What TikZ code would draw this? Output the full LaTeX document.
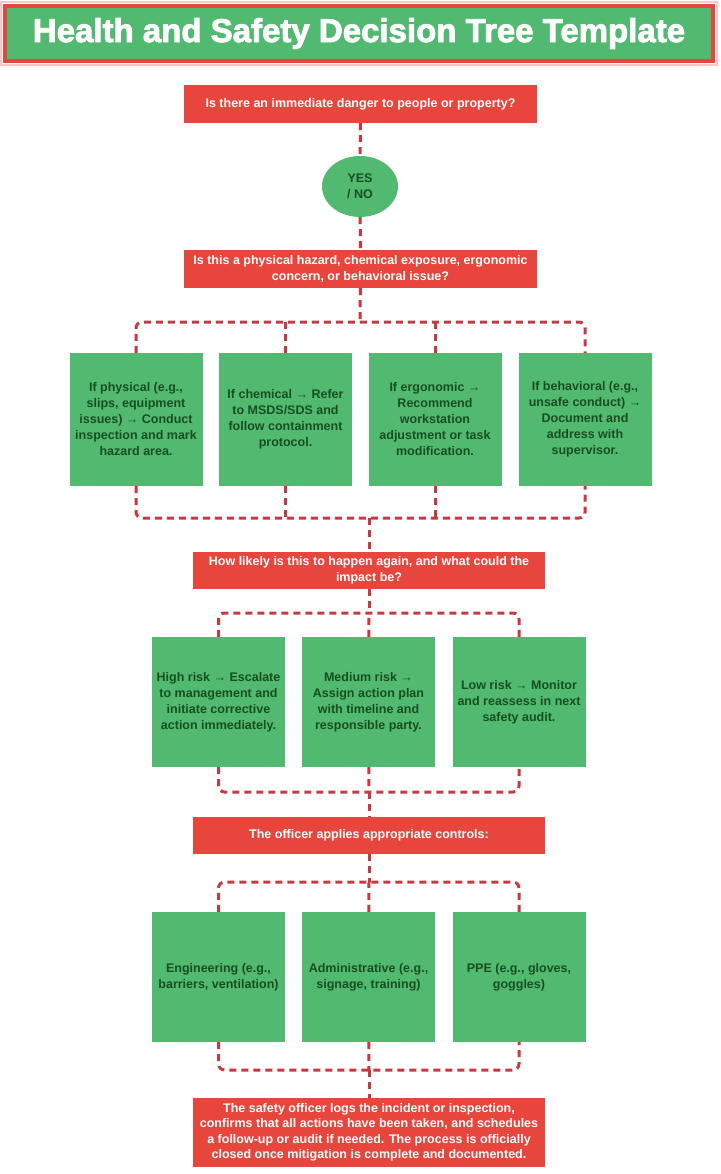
\documentclass[tikz,border=0pt]{standalone}
\usepackage{fontspec}
\setmainfont{Liberation Sans}
\newfontfamily\titlefont{Liberation Sans Bold}[FakeBold=2.5]
\usepackage{tikz}
\usetikzlibrary{shapes.geometric}
\definecolor{boxred}{RGB}{232,70,60}
\definecolor{boxgreen}{RGB}{82,186,112}
\definecolor{txtgreen}{RGB}{22,78,34}
\definecolor{linkred}{RGB}{200,56,66}

\begin{document}
\begin{tikzpicture}[x=1pt, y=-1pt,
        head/.style = {fill=boxgreen, draw=boxred, line width=4pt, text=white, minimum width=708, minimum height=55, font=\titlefont\fontsize{33}{36}\selectfont},
        ques/.style = {fill=boxred, text=white, align=center, minimum width=353, minimum height=38, inner sep=2pt, font=\fontsize{12.5}{15.5}\selectfont\bfseries},
        opt/.style = {fill=boxgreen, text=txtgreen, align=center, minimum width=133, minimum height=130, inner sep=2pt, font=\fontsize{12.5}{16}\selectfont\bfseries},
        yesno/.style = {ellipse, fill=boxgreen, text=txtgreen, align=center, minimum width=76, minimum height=61, inner sep=0pt, font=\fontsize{12.5}{16}\selectfont\bfseries},
        link/.style = {draw=linkred, line width=3pt, dash pattern=on 7pt off 5pt, rounded corners=6pt}]

        \useasboundingbox (0,0) rectangle (720,1174);

        \draw[boxred!30, line width=2pt] (1,2) rectangle (717,65);
        \node[head] (title) at (359,33.5) {Health and Safety Decision Tree Template};

        \node[ques] (q1) at (360.5,104) {Is there an immediate danger to people or property?};
        \node[yesno] (yn) at (360,186.5) {YES\\/ NO};
        \node[ques] (q2) at (360.5,269) {Is this a physical hazard, chemical exposure, ergonomic\\concern, or behavioral issue?};

        \node[opt, minimum height=133] (p1) at (136,419.5) {If physical (e.g.,\\slips, equipment\\issues) → Conduct\\inspection and mark\\hazard area.};
        \node[opt, minimum height=133] (p2) at (285.5,419.5) {If chemical → Refer\\to MSDS/SDS and\\follow containment\\protocol.};
        \node[opt, minimum height=133] (p3) at (435,419.5) {If ergonomic →\\Recommend\\workstation\\adjustment or task\\modification.};
        \node[opt, minimum height=133] (p4) at (585,419.5) {If behavioral (e.g.,\\unsafe conduct) →\\Document and\\address with\\supervisor.};

        \node[ques, minimum width=352, minimum height=37] (q3) at (369,570.5) {How likely is this to happen again, and what could the\\impact be?};

        \node[opt] (r1) at (218.5,702) {High risk → Escalate\\to management and\\initiate corrective\\action immediately.};
        \node[opt] (r2) at (368.5,702) {Medium risk →\\Assign action plan\\with timeline and\\responsible party.};
        \node[opt] (r3) at (519,702) {Low risk → Monitor\\and reassess in next\\safety audit.};

        \node[ques, minimum width=352, minimum height=37] (q4) at (369,835.5) {The officer applies appropriate controls:};

        \node[opt] (c1) at (218.5,977) {Engineering (e.g.,\\barriers, ventilation)};
        \node[opt] (c2) at (368.5,977) {Administrative (e.g.,\\signage, training)};
        \node[opt] (c3) at (519,977) {PPE (e.g., gloves,\\goggles)};

        \node[ques, minimum width=352, minimum height=69, font=\fontsize{12.5}{15.5}\selectfont\bfseries] (q5) at (369,1132.5) {The safety officer logs the incident or inspection,\\confirms that all actions have been taken, and schedules\\a follow-up or audit if needed. The process is officially\\closed once mitigation is complete and documented.};

        % split and merge points
        \coordinate (s1) at (360,322); \coordinate (m1) at (369,518);
        \coordinate (s2) at (369,613); \coordinate (m2) at (369,792);
        \coordinate (s3) at (369,882); \coordinate (m3) at (369,1070);

        \draw[link] (q1) -- (yn); \draw[link] (yn) -- (q2);

        \draw[link] (q2) -- (s1); \draw[link] (p1) |- (s1) -| (p4);
        \draw[link] (p2) -- (p2 |- s1); \draw[link] (p3) -- (p3 |- s1);
        \draw[link] (p1) |- (m1) -| (p4); \draw[link] (m1) -- (q3);
        \draw[link] (p2) -- (p2 |- m1); \draw[link] (p3) -- (p3 |- m1);

        \draw[link] (q3) -- (s2); \draw[link] (r1) |- (s2) -| (r3); \draw[link] (r2) -- (s2);
        \draw[link] (r1) |- (m2) -| (r3); \draw[link] (r2) -- (m2); \draw[link] (m2) -- (q4);

        \draw[link] (q4) -- (s3); \draw[link] (c1) |- (s3) -| (c3); \draw[link] (c2) -- (s3);
        \draw[link] (c1) |- (m3) -| (c3); \draw[link] (c2) -- (m3); \draw[link] (m3) -- (q5);
\end{tikzpicture}
\end{document}
